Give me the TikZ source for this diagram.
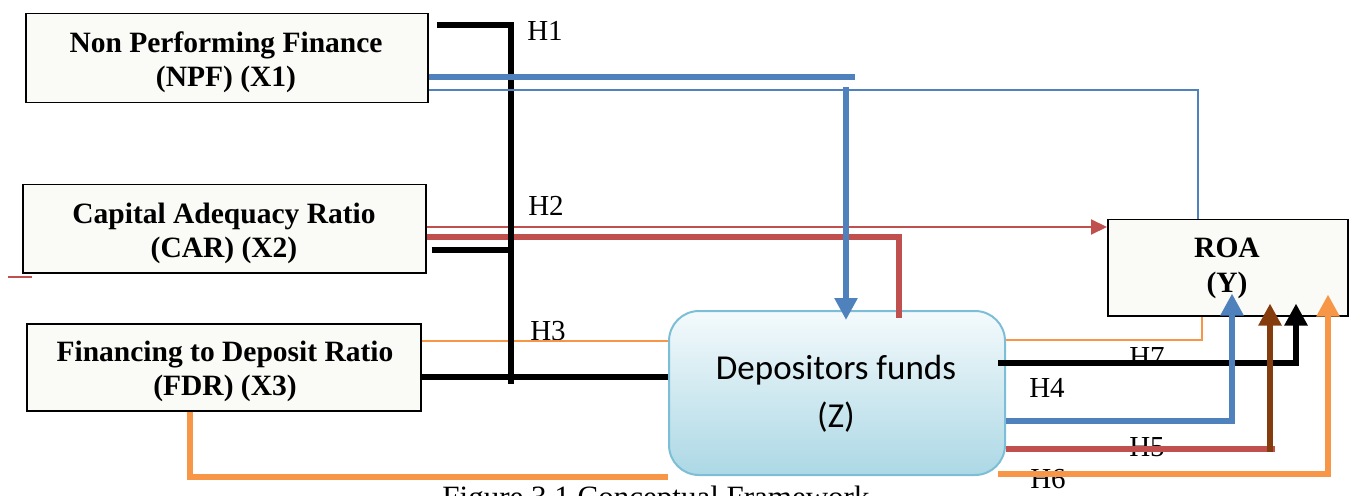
\documentclass[tikz,border=0pt]{standalone}
\usepackage{fontspec}
\setmainfont{Liberation Serif}
\newfontfamily\carlito{Carlito}
\usetikzlibrary{arrows.meta,calc}
\definecolor{cblue}{RGB}{79,129,189}
\definecolor{cred}{RGB}{192,80,77}
\definecolor{corange}{RGB}{247,150,70}
\definecolor{cbrown}{RGB}{132,60,12}
\definecolor{cdepline}{RGB}{125,190,215}
\definecolor{cdeptop}{RGB}{244,250,252}
\definecolor{cdepbot}{RGB}{172,216,229}
\definecolor{cbox}{RGB}{250,250,246}
\begin{document}
\begin{tikzpicture}[x=1bp,y=-1bp,
  varbox/.style={draw=black, line width=1.5bp, fill=cbox, inner sep=0pt, anchor=north west},
  btxt/.style={font=\fontsize{29.5bp}{34bp}\selectfont\bfseries, inner sep=0pt, anchor=base},
  hlab/.style={font=\fontsize{29bp}{29bp}\selectfont, inner sep=0pt, anchor=base},
  bk/.style={draw=black, line width=6.5bp},
  bl/.style={draw=cblue, line width=6bp},
  rd/.style={draw=cred, line width=6bp},
  og/.style={draw=corange, line width=6bp},
  br/.style={draw=cbrown, line width=6bp},
  blthin/.style={draw=cblue, line width=2bp},
  rdthin/.style={draw=cred, line width=2bp},
  ogthin/.style={draw=corange, line width=2bp},
  arr/.style={-{Triangle[width=22bp,length=22bp]}},
  sarr/.style={-{Triangle[width=15bp,length=16bp]}}]
\useasboundingbox (0,0) rectangle (1355,496);

% boxes
\node[varbox, minimum width=402bp, minimum height=89bp] (npf) at (25,13) {};
\node[varbox, minimum width=403bp, minimum height=88bp] (car) at (22,184) {};
\node[varbox, minimum width=394bp, minimum height=87bp] (fdr) at (26,323) {};
\node[varbox, minimum width=240bp, minimum height=96bp] (roa) at (1107,219) {};

% line behind depositors box
\draw[og] (fdr.south -| 190,0) |- (668,477);

\node[draw=cdepline, line width=2bp, rounded corners=30bp, top color=cdeptop, bottom color=cdepbot,
      minimum width=336bp, minimum height=164bp, inner sep=0pt, anchor=north west] (dep) at (668,310) {};

% texts
\node[btxt] (npft) at (226,53) {\begin{tabular}[t]{@{}c@{}}Non Performing Finance\\(NPF) (X1)\end{tabular}};
\node[btxt] (cart) at (224,224) {\begin{tabular}[t]{@{}c@{}}Capital Adequacy Ratio\\(CAR) (X2)\end{tabular}};
\node[btxt] (fdrt) at (225,361) {\begin{tabular}[t]{@{}c@{}}Financing to Deposit Ratio\\(FDR) (X3)\end{tabular}};
\node[btxt] (roat) at (1227,258) {\begin{tabular}[t]{@{}c@{}}ROA\\(Y)\end{tabular}};
\node[font=\carlito\fontsize{35bp}{48bp}\selectfont, inner sep=0pt, anchor=base] (dept) at (836,379)
  {\begin{tabular}[t]{@{}c@{}}Depositors funds\\(Z)\end{tabular}};

% hypothesis labels
\node[hlab] (h1) at (545,41) {H1};
\node[hlab] (h2) at (546,216) {H2};
\node[hlab] (h3) at (548,340) {H3};
\node[hlab] (h4) at (1047,397) {H4};
\node[hlab] (h5) at (1147,456) {H5};
\node[hlab] (h6) at (1048,488) {H6};
\node[hlab] (h7) at (1147,366) {H7};

% caption (partly cut off at the bottom edge, as in the figure)
\node[font=\fontsize{31bp}{31bp}\selectfont, inner sep=0pt, anchor=base] (cap) at (656,507) {Figure 3.1 Conceptual Framework};

% small red mark
\coordinate (rm1) at (8,277);
\coordinate (rm2) at (32,277);
\draw[rdthin] (rm1) -- (rm2);

% H2 red lines
\draw[rdthin, sarr] (car.east |- 0,227) -- (roa.west |- 0,227);
\draw[rd] (car.east |- 0,237) -| ($(dep.north -| 899,0)+(0,8)$);

% H3 orange thin
\draw[ogthin] (fdr.east |- 0,341) -- (dep.west |- 0,341);
\draw[ogthin] (dep.east |- 0,340) -| (roa.south -| 1202,0);

% H1 black
\coordinate (hj) at (511,384);
\draw[bk] ($(npf.east |- 0,25)+(8,0)$) -| (hj);
\draw[bk] ($(car.east |- 0,250)+(5,0)$) -- (hj |- 0,250);
\draw[bk] (fdr.east |- 0,377) -- (dep.west |- 0,377);

% blue from NPF
\coordinate (bj) at (855,77);
\draw[bl] (npf.east |- 0,77) -- (bj);
\draw[bl, arr] ($(bj)+(-9,10)$) -- ($(dep.north -| 846,0)+(0,10)$);
\draw[blthin] (npf.east |- 0,90) -| (roa.north -| 1198,0);

% from depositors funds to ROA
\draw[bk, arr] ($(dep.east |- 0,363)+(-8,0)$) -| ($(roa.south -| 1296,0)+(0,-13)$);
\draw[bl, arr] (dep.east |- 0,421) -| ($(roa.south -| 1232,0)+(0,-23)$);
\coordinate (r5) at (1275,449);
\draw[rd] (dep.east |- 0,449) -- (r5);
\draw[br, arr] ($(r5)+(-5,3)$) -- ($(roa.south -| 1270,0)+(0,-13)$);
\draw[og, arr] ($(dep.east |- 0,474)+(-8,0)$) -| ($(roa.south -| 1328,0)+(0,-22)$);
\end{tikzpicture}
\end{document}
